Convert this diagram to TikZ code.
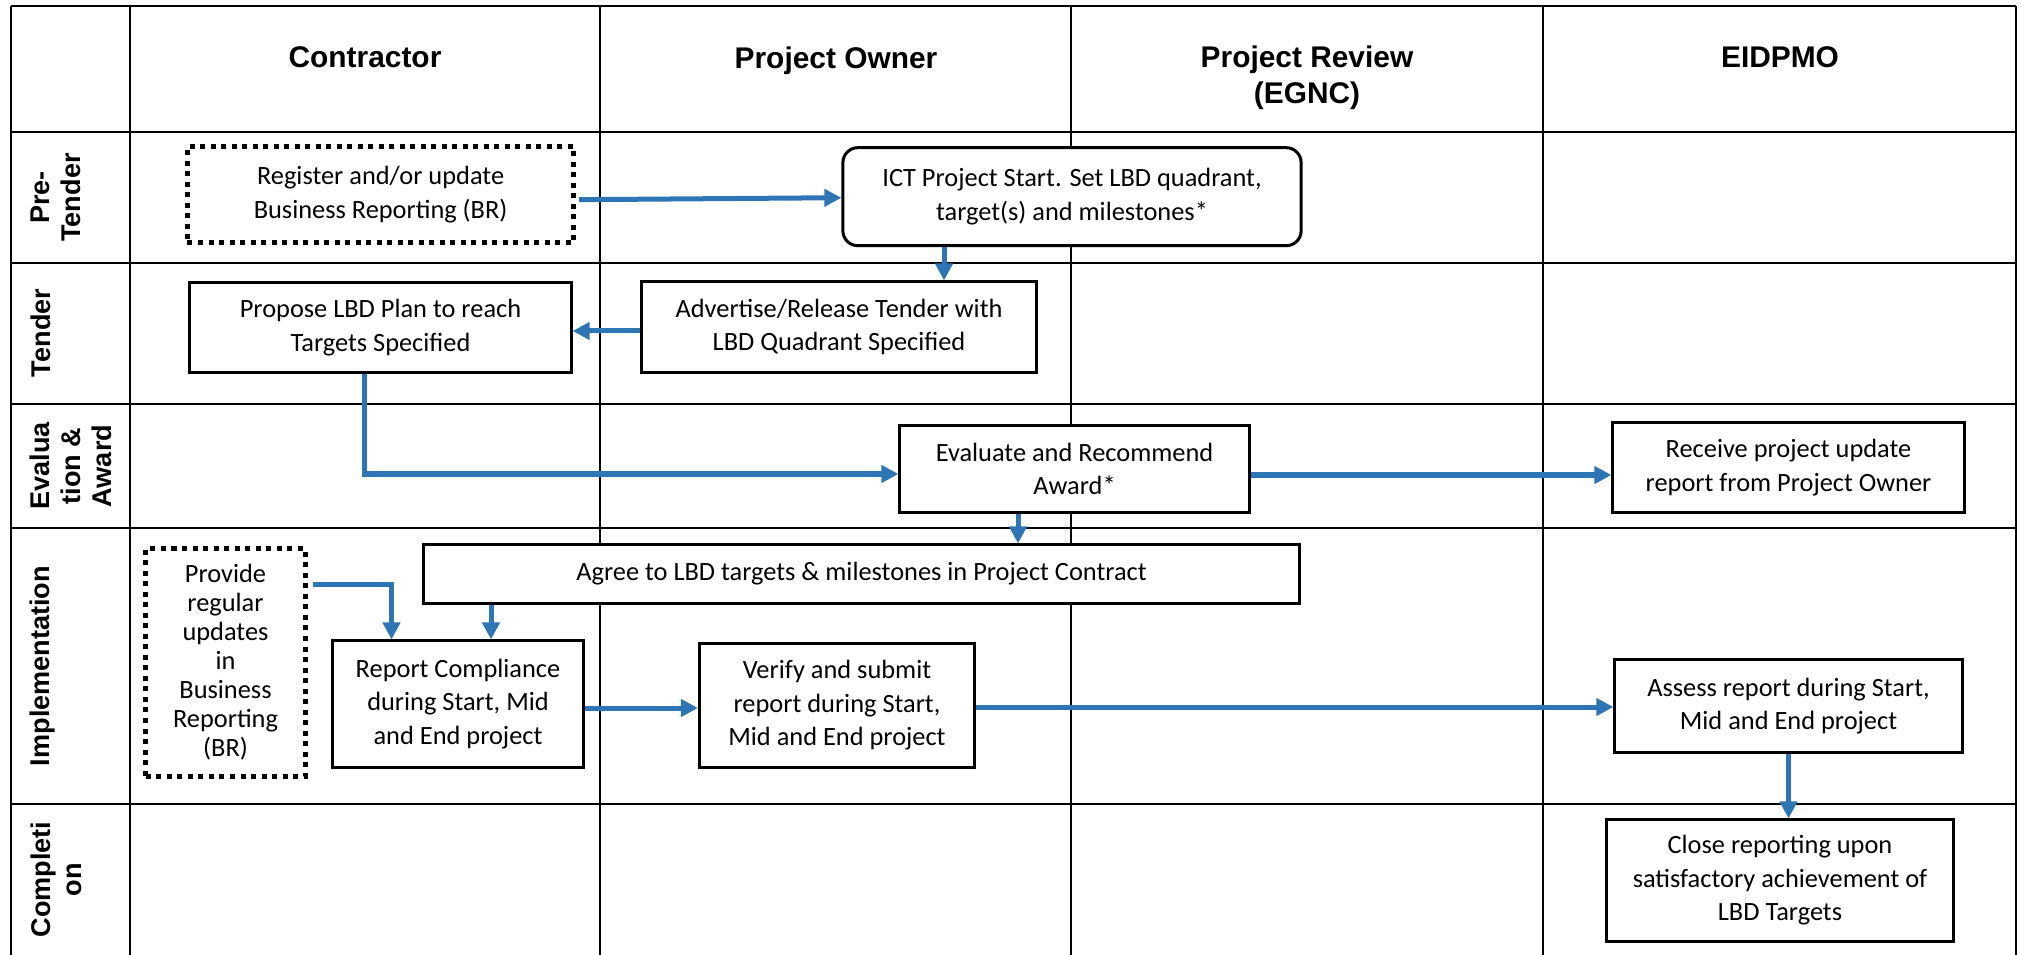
\documentclass[tikz,border=0pt]{standalone}
\usepackage{fontspec}
\setmainfont{Carlito}
\newfontfamily\hdfont{Liberation Sans}
\usetikzlibrary{arrows.meta,calc}
\definecolor{flowblue}{RGB}{46,117,182}
\begin{document}
\begin{tikzpicture}[x=0.01cm,y=-0.01cm,
  grid/.style={line width=0.028cm, black},
  box/.style={draw, fill=white, line width=0.03cm, rectangle, align=center, inner sep=0pt, font=\fontsize{7.5}{9.5}\selectfont},
  dotbox/.style={box, dash pattern=on 0.05cm off 0.055cm, line width=0.05cm},
  arr/.style={draw=flowblue, line width=0.05cm, -{Triangle[length=0.17cm,width=0.17cm]}},
  colhead/.style={font=\hdfont\bfseries\fontsize{8.5}{10.2}\selectfont, align=center, anchor=north, inner sep=0pt},
  rowhead/.style={font=\hdfont\bfseries\fontsize{7.7}{8.8}\selectfont, align=center, rotate=90, anchor=north, inner sep=0pt}]
\useasboundingbox (0,0) rectangle (2021,955);
% table grid
\foreach \yy in {6,132,263,404,528,804} \draw[grid] (11,\yy) -- (2016,\yy);
\foreach \xx in {11,130,600,1071,1543,2016} \draw[grid] (\xx,6) -- (\xx,956);
% column headers
\node[colhead] (h1) at (365,46) {Contractor};
\node[colhead] (h2) at (836,46) {Project Owner};
\node[colhead] (h3) at (1307,45) {Project Review\\(EGNC)};
\node[colhead] (h4) at (1780,46) {EIDPMO};
% row headers
\node[rowhead] (r1) at (30,197.5) {Pre-\\Tender};
\node[rowhead] (r2) at (30,333) {Tender};
\node[rowhead] (r3) at (29,466) {Evalua\\tion \&\\Award};
\node[rowhead] (r4) at (29,666) {Implementation};
\node[rowhead] (r5) at (30,879.5) {Completi\\on};
% process boxes
\node[dotbox, minimum width=3.86cm, minimum height=0.96cm] (reg) at (380.6,194.7) {Register and/or update\\Business Reporting (BR)};
\node[box, rounded corners=0.15cm, minimum width=4.58cm, minimum height=0.98cm] (ict) at (1072,196.7) {ICT Project Start. Set LBD quadrant,\\target(s) and milestones*};
\node[box, minimum width=3.94cm, minimum height=0.90cm] (adv) at (839,327) {Advertise/Release Tender with\\LBD Quadrant Specified};
\node[box, minimum width=3.81cm, minimum height=0.89cm] (prop) at (380.5,327.5) {Propose LBD Plan to reach\\Targets Specified};
\node[box, minimum width=3.49cm, minimum height=0.86cm] (eval) at (1074.5,469) {Evaluate and Recommend\\Award*};
\node[box, minimum width=3.51cm, minimum height=0.89cm] (recv) at (1788.5,467.5) {Receive project update\\report from Project Owner};
\node[box, minimum width=8.75cm, minimum height=0.58cm] (agree) at (861.5,574) {Agree to LBD targets \& milestones in Project Contract};
\node[dotbox, minimum width=1.59cm, minimum height=2.27cm, font=\fontsize{7.5}{8.25}\selectfont] (prov) at (225.5,662.5) {Provide\\regular\\updates\\in\\Business\\Reporting\\(BR)};
\node[box, minimum width=2.50cm, minimum height=1.26cm] (rep) at (458,704) {Report Compliance\\during Start, Mid\\and End project};
\node[box, minimum width=2.75cm, minimum height=1.23cm] (ver) at (837,705.5) {Verify and submit\\report during Start,\\Mid and End project};
\node[box, minimum width=3.47cm, minimum height=0.92cm] (assess) at (1788.5,706) {Assess report during Start,\\Mid and End project};
\node[box, minimum width=3.46cm, minimum height=1.21cm] (close) at (1780,880.5) {Close reporting upon\\satisfactory achievement of\\LBD Targets};
% connectors
\draw[arr] ($(reg.east)+(3,5)$) -- ($(ict.west)+(0,1)$);
\draw[arr] ($(ict.south)+(-128,0)$) -- ($(adv.north)+(105,0)$);
\draw[arr] ($(adv.west)+(0,4)$) -- ($(prop.east)+(0,3.5)$);
\draw[arr] ($(prop.south)+(-16,0)$) |- ($(eval.west)+(0,5)$);
\coordinate (e1) at ($(eval.east)+(0,6)$);
\draw[arr] (e1) -- (e1 -| recv.west);
\draw[arr] ($(eval.south)+(-56.5,0)$) -- ($(agree.north)+(156.5,0)$);
\draw[arr] ($(prov.north east)+(5,38)$) -| ($(rep.north)+(-66.5,0)$);
\coordinate (r2) at ($(rep.north)+(33,0)$);
\draw[arr] (r2 |- agree.south) -- (r2);
\coordinate (v1) at ($(rep.east)+(0,4)$);
\draw[arr] (v1) -- (v1 -| ver.west);
\coordinate (a1) at ($(ver.east)+(0,1.5)$);
\draw[arr] (a1) -- (a1 -| assess.west);
\draw[arr] (assess.south) -- (assess.south |- close.north);
\end{tikzpicture}
\end{document}
